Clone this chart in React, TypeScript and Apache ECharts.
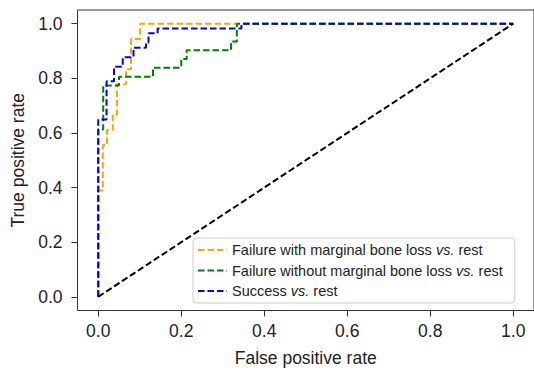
import React, { useEffect, useRef } from 'react';
import * as echarts from 'echarts';

const xTicks = [0, 0.2, 0.4, 0.6, 0.8, 1.0];
const yTicks = [0, 0.2, 0.4, 0.6, 0.8, 1.0];

const seriesNames = [
  'Failure with marginal bone loss vs. rest',
  'Failure without marginal bone loss vs. rest',
  'Success vs. rest',
];

// Failure with marginal bone loss vs. rest (orange)
const fprMBL = [0, 0, 0.011, 0.011, 0.021, 0.021, 0.035, 0.035, 0.045, 0.045, 0.067, 0.067, 0.079, 0.079, 0.101, 0.101, 1];
const tprMBL = [0, 0.389, 0.389, 0.556, 0.556, 0.611, 0.611, 0.667, 0.667, 0.778, 0.778, 0.833, 0.833, 0.944, 0.944, 1, 1];

// Failure without marginal bone loss vs. rest (green)
const fprNoMBL = [0, 0, 0.012, 0.012, 0.05, 0.05, 0.132, 0.132, 0.2, 0.2, 0.213, 0.213, 0.32, 0.32, 0.334, 0.334, 1];
const tprNoMBL = [0, 0.613, 0.613, 0.774, 0.774, 0.806, 0.806, 0.839, 0.839, 0.871, 0.871, 0.903, 0.903, 0.935, 0.935, 1, 1];

// Success vs. rest (blue)
const fprSuccess = [0, 0, 0.02, 0.02, 0.038, 0.038, 0.059, 0.059, 0.085, 0.085, 0.115, 0.115, 0.121, 0.121, 0.143, 0.143, 0.345, 0.345, 1];
const tprSuccess = [0, 0.649, 0.649, 0.789, 0.789, 0.842, 0.842, 0.877, 0.877, 0.912, 0.912, 0.93, 0.93, 0.965, 0.965, 0.982, 0.982, 1, 1];

// Chance diagonal
const fprChance = [0, 1];
const tprChance = [0, 1];

const colors = ['#FFA500', '#008000', '#0000FF'];

export default function App() {
  const ref = useRef<HTMLDivElement>(null);
  useEffect(() => {
    const chart = echarts.init(ref.current!, null, { renderer: 'svg' });
    const font = "'Liberation Sans', Arial, Helvetica, sans-serif";
    const pts = (xs: number[], ys: number[]) => xs.map((x, i) => [x, ys[i]]);
    const dash = [6.5, 3];
    const mk = (name: string, color: string, data: number[][], z: number) => ({
      type: 'line',
      name,
      data,
      symbol: 'none',
      showSymbol: false,
      silent: true,
      z,
      lineStyle: { color, width: 2, type: dash },
      itemStyle: { color },
    });
    chart.setOption({
      animation: false,
      grid: {
        left: 77.5,
        right: -4.5,
        top: 10,
        bottom: 65.5,
        show: true,
        borderColor: '#333',
        borderWidth: 1,
        backgroundColor: 'transparent',
      },
      xAxis: {
        type: 'value',
        min: -0.05,
        max: 1.05,
        splitLine: { show: false },
        axisLine: { show: false, onZero: false },
        axisTick: { show: true, customValues: xTicks, length: 6, lineStyle: { color: '#333', width: 1 } },
        axisLabel: {
          customValues: xTicks,
          formatter: (v: number) => v.toFixed(1),
          fontSize: 17.5,
          color: '#222',
          fontFamily: font,
          margin: 11,
        },
        name: 'False positive rate',
        nameLocation: 'middle',
        nameGap: 38,
        nameTextStyle: { fontSize: 17.5, color: '#222', fontFamily: font },
      },
      yAxis: {
        type: 'value',
        min: -0.05,
        max: 1.05,
        splitLine: { show: false },
        axisLine: { show: false, onZero: false },
        axisTick: { show: true, customValues: yTicks, length: 6, lineStyle: { color: '#333', width: 1 } },
        axisLabel: {
          customValues: yTicks,
          formatter: (v: number) => v.toFixed(1),
          fontSize: 17.5,
          color: '#222',
          fontFamily: font,
          margin: 15,
        },
        name: 'True positive rate',
        nameLocation: 'middle',
        nameGap: 50,
        nameTextStyle: { fontSize: 17.5, color: '#222', fontFamily: font },
      },
      legend: {
        data: seriesNames,
        orient: 'vertical',
        left: 193,
        top: 238,
        itemWidth: 29,
        itemHeight: 14,
        itemGap: 4.5,
        padding: [4, 12, 4, 4],
        backgroundColor: 'rgba(255,255,255,0.8)',
        borderColor: '#cccccc',
        borderWidth: 1,
        borderRadius: 4,
        selectedMode: false,
        itemStyle: { opacity: 0 },
        textStyle: {
          fontSize: 14.5,
          color: '#222',
          fontFamily: font,
          lineHeight: 16,
          rich: {
            i: { fontStyle: 'italic', fontSize: 14.5, color: '#222', fontFamily: font, lineHeight: 16 },
          },
        },
        formatter: (n: string) => n.replace('vs.', '{i|vs.}'),
      },
      series: [
        mk(seriesNames[0], colors[0], pts(fprMBL, tprMBL), 2),
        mk(seriesNames[1], colors[1], pts(fprNoMBL, tprNoMBL), 3),
        mk(seriesNames[2], colors[2], pts(fprSuccess, tprSuccess), 4),
        {
          type: 'line',
          name: 'chance',
          data: pts(fprChance, tprChance),
          symbol: 'none',
          silent: true,
          z: 5,
          lineStyle: { color: '#000', width: 2, type: dash },
        },
      ],
    });
    return () => chart.dispose();
  }, []);
  return (
    <div
      ref={ref}
      style={{ position: 'absolute', left: 0, top: 0, width: 534, height: 376, background: '#fff' }}
    />
  );
}
